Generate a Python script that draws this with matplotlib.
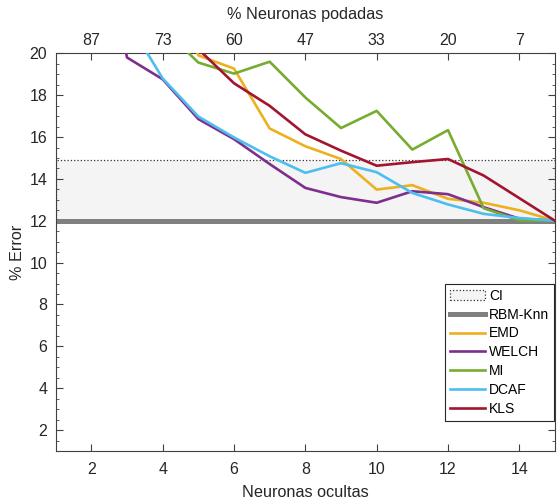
import matplotlib
matplotlib.use("Agg")
import matplotlib.pyplot as plt
from matplotlib.patches import Patch
from matplotlib.ticker import MultipleLocator
import numpy as np

plt.rcParams['font.family'] = ['Liberation Sans', 'DejaVu Sans']

### Data ###
hidden = np.arange(1, 16)
pruned_ticks = [2, 4, 6, 8, 10, 12, 14]
pruned_labels = ['87', '73', '60', '47', '33', '20', '7']

rbm_knn = 12.0
ci_low, ci_high = 12.0, 14.9

emd = [30.0, 27.0, 25.0, 24.0, 19.9, 19.27, 16.41, 15.56, 14.95, 13.49, 13.7, 13.05, 12.86, 12.5, 12.0]
welch = [34.0, 28.0, 19.8, 18.76, 16.86, 15.9, 14.71, 13.57, 13.13, 12.86, 13.41, 13.27, 12.65, 12.1, 12.0]
mi = [27.0, 25.0, 23.0, 21.2, 19.56, 19.03, 19.6, 17.89, 16.43, 17.25, 15.4, 16.33, 12.6, 12.02, 12.0]
dcaf = [27.0, 24.0, 21.6, 18.8, 16.98, 15.98, 15.08, 14.29, 14.75, 14.32, 13.33, 12.78, 12.33, 12.13, 12.0]
kls = [27.0, 25.0, 23.0, 21.8, 20.2, 18.57, 17.49, 16.13, 15.35, 14.63, 14.8, 14.95, 14.16, 13.08, 12.0]

series = [("EMD", emd, "#EDB120"),
          ("WELCH", welch, "#7E2F8E"),
          ("MI", mi, "#77AC30"),
          ("DCAF", dcaf, "#4DBEEE"),
          ("KLS", kls, "#A2142F")]

axcol = "#404040"
txtcol = "#262626"

fig = plt.figure(figsize=(5.58, 5.04), dpi=100)
ax = fig.add_axes([0.0998, 0.1052, 0.8948, 0.789])

### CI band and baseline ###
ax.axhspan(ci_low, ci_high, facecolor="#f4f4f4", edgecolor="#333333",
           linestyle=":", linewidth=0.9, zorder=1)
ax.axhline(rbm_knn, color="#808080", linewidth=3.6, zorder=2, label="RBM-Knn")

for name, vals, col in series:
    ax.plot(hidden, vals, color=col, linewidth=1.9, label=name, zorder=3)

ax.set_xlim(1, 15)
ax.set_ylim(1, 20)
ax.set_xticks(pruned_ticks)
ax.set_yticks(np.arange(2, 21, 2))
ax.yaxis.set_minor_locator(MultipleLocator(0.5))
ax.tick_params(axis='both', which='both', direction='in', colors=axcol,
               labelcolor=txtcol, labelsize=11.5)
ax.tick_params(axis='y', which='both', right=True)
ax.tick_params(axis='y', which='major', length=5, pad=6)
ax.tick_params(axis='y', which='minor', length=2.5)
ax.tick_params(axis='x', which='major', length=5, pad=8)
for sp in ax.spines.values():
    sp.set_color(axcol)
    sp.set_linewidth(0.8)

ax.set_xlabel("Neuronas ocultas", fontsize=11.7, color=txtcol, labelpad=6)
ax.set_ylabel("% Error", fontsize=11.7, color=txtcol, labelpad=3)

### top axis: percentage of pruned neurons ###
ax2 = ax.twiny()
ax2.set_xlim(ax.get_xlim())
ax2.set_xticks(pruned_ticks)
ax2.set_xticklabels(pruned_labels)
ax2.tick_params(axis='x', direction='in', length=5, colors=axcol,
                labelcolor=txtcol, labelsize=11.5, pad=4)
ax2.set_xlabel("% Neuronas podadas", fontsize=11.7, color=txtcol, labelpad=10)
for sp in ax2.spines.values():
    sp.set_visible(False)

### legend ###
handles, labels = ax.get_legend_handles_labels()
ci_patch = Patch(facecolor="#f4f4f4", edgecolor="#333333", linestyle=":", linewidth=0.9)
leg = ax.legend([ci_patch] + handles, ["CI"] + labels, loc="lower right",
                bbox_to_anchor=(0.998, 0.076), borderaxespad=0, fontsize=10,
                frameon=True, fancybox=False, framealpha=1, edgecolor="#262626",
                handlelength=2.5, handletextpad=0.3, labelspacing=0.35,
                borderpad=0.35)
leg.get_frame().set_linewidth(0.8)

fig.savefig("out.png", dpi=100)
